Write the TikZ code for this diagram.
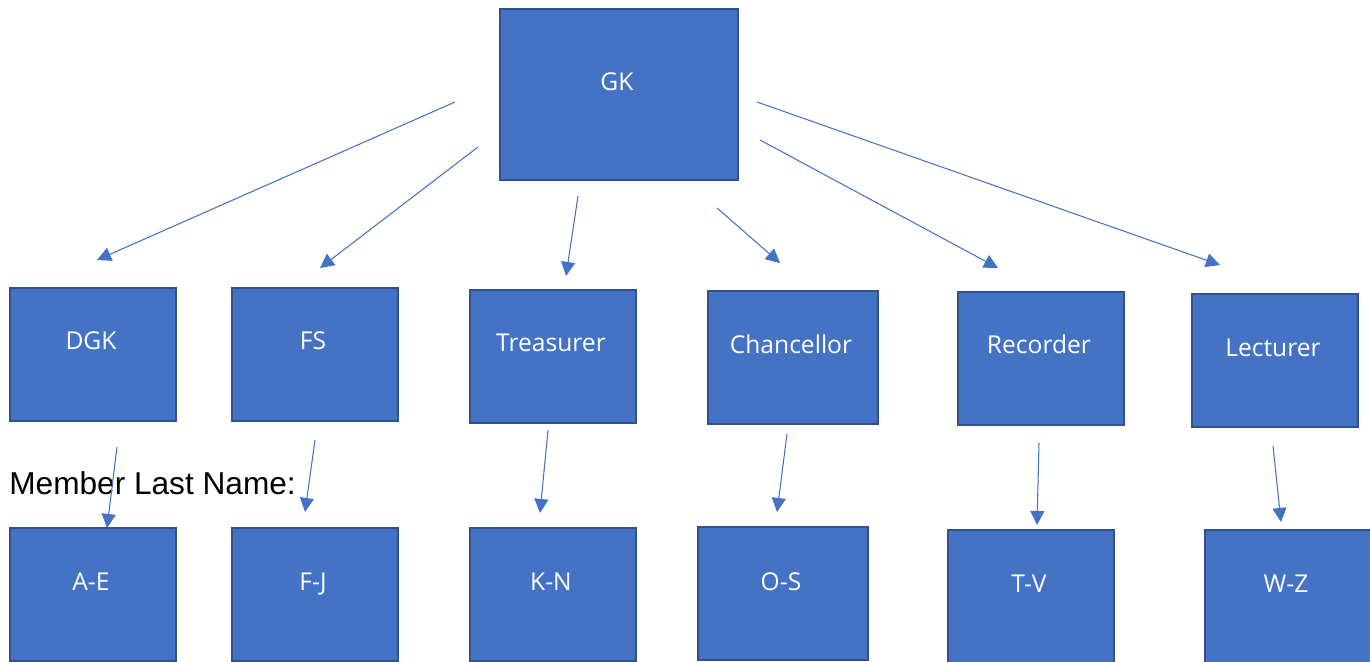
\documentclass[tikz,border=0pt]{standalone}
\usepackage{fontspec}
\usetikzlibrary{calc, arrows.meta, positioning}
\newfontfamily\opensans{Open Sans}
\newfontfamily\arialsub{Liberation Sans}
\definecolor{unitblue}{RGB}{68,114,196}
\definecolor{unitborder}{RGB}{47,82,143}

\begin{document}
\begin{tikzpicture}[x=0.02cm, y=-0.02cm]
		% Styles for boxes, labels and arrows
		\tikzset{unit/.style={rectangle, fill=unitblue, draw=unitborder, line width=1.2pt, minimum width=3.32cm, minimum height=2.66cm, anchor=north west, inner sep=0pt, outer sep=0pt}}
		\tikzset{tag/.style={font=\opensans\fontsize{14}{16}\selectfont, text=white, anchor=base, inner sep=0pt}}
		\tikzset{link/.style={draw=unitblue, line width=0.6pt, -{Triangle[length=8pt, width=8pt]}}}
		
		\useasboundingbox (0,0) rectangle (1370,662);
		
		% Top box
		\node[unit, minimum width=4.76cm, minimum height=3.42cm] (gk) at (500,9) {};
		\node[tag] (gktag) at ($(gk.north)+(-2,82)$) {GK};
		
		% --- Officers ---
		\node[unit] (dgk) at (10,288) {};
		\node[unit] (fs) at (232,288) {};
		\node[unit] (trs) at (470,290) {};
		\node[unit, minimum width=3.4cm] (chc) at (708,291) {};
		\node[unit] (rec) at (958,292) {};
		\node[unit] (lec) at (1192,294) {};
		
		\node[tag] (dgktag) at ($(dgk.north)+(-2,62)$) {DGK};
		\node[tag] (fstag) at ($(fs.north)+(-2,62)$) {FS};
		\node[tag] (trstag) at ($(trs.north)+(-2,62)$) {Treasurer};
		\node[tag] (chctag) at ($(chc.north)+(-2,63)$) {Chancellor};
		\node[tag] (rectag) at ($(rec.north)+(-2,62)$) {Recorder};
		\node[tag] (lectag) at ($(lec.north)+(-2,63)$) {Lecturer};
		
		% --- Member groups ---
		\node[unit] (ae) at (10,528) {};
		\node[unit] (fj) at (232,528) {};
		\node[unit] (kn) at (470,528) {};
		\node[unit, minimum width=3.4cm] (os) at (698,527) {};
		\node[unit] (tv) at (948,530) {};
		\node[unit] (wz) at (1205,530) {};
		
		\node[tag] (aetag) at ($(ae.north)+(-2,62)$) {A-E};
		\node[tag] (fjtag) at ($(fj.north)+(-2,62)$) {F-J};
		\node[tag] (kntag) at ($(kn.north)+(-2,62)$) {K-N};
		\node[tag] (ostag) at ($(os.north)+(-2,63)$) {O-S};
		\node[tag] (tvtag) at ($(tv.north)+(-2,62)$) {T-V};
		\node[tag] (wztag) at ($(wz.north)+(-2,62)$) {W-Z};
		
		\node[anchor=base west, inner sep=0pt, font=\arialsub\fontsize{18}{21}\selectfont] (member) at (9,494) {Member Last Name:};
		
		% Arrow ends (arrows float between the boxes)
		\coordinate (a1) at (455,102);  \coordinate (b1) at (97,260);
		\coordinate (a2) at (478,147);  \coordinate (b2) at (320,268);
		\coordinate (a3) at (578,196);  \coordinate (b3) at (566,276);
		\coordinate (a4) at (717,208);  \coordinate (b4) at (780,263);
		\coordinate (a5) at (760,140);  \coordinate (b5) at (998,268);
		\coordinate (a6) at (757,102);  \coordinate (b6) at (1220,265);
		
		\coordinate (c1) at (117,447);  \coordinate (d1) at (107,528);
		\coordinate (c2) at (315,440);  \coordinate (d2) at (305,512);
		\coordinate (c3) at (548,430);  \coordinate (d3) at (540,513);
		\coordinate (c4) at (787,434);  \coordinate (d4) at (777,512);
		\coordinate (c5) at (1039,443); \coordinate (d5) at (1037,525);
		\coordinate (c6) at (1273,446); \coordinate (d6) at (1281,522);
		
		\draw[link] (a1) -- (b1);
		\draw[link] (a2) -- (b2);
		\draw[link] (a3) -- (b3);
		\draw[link] (a4) -- (b4);
		\draw[link] (a5) -- (b5);
		\draw[link] (a6) -- (b6);
		
		\draw[link] (c1) -- (d1);
		\draw[link] (c2) -- (d2);
		\draw[link] (c3) -- (d3);
		\draw[link] (c4) -- (d4);
		\draw[link] (c5) -- (d5);
		\draw[link] (c6) -- (d6);
	\end{tikzpicture}
\end{document}
